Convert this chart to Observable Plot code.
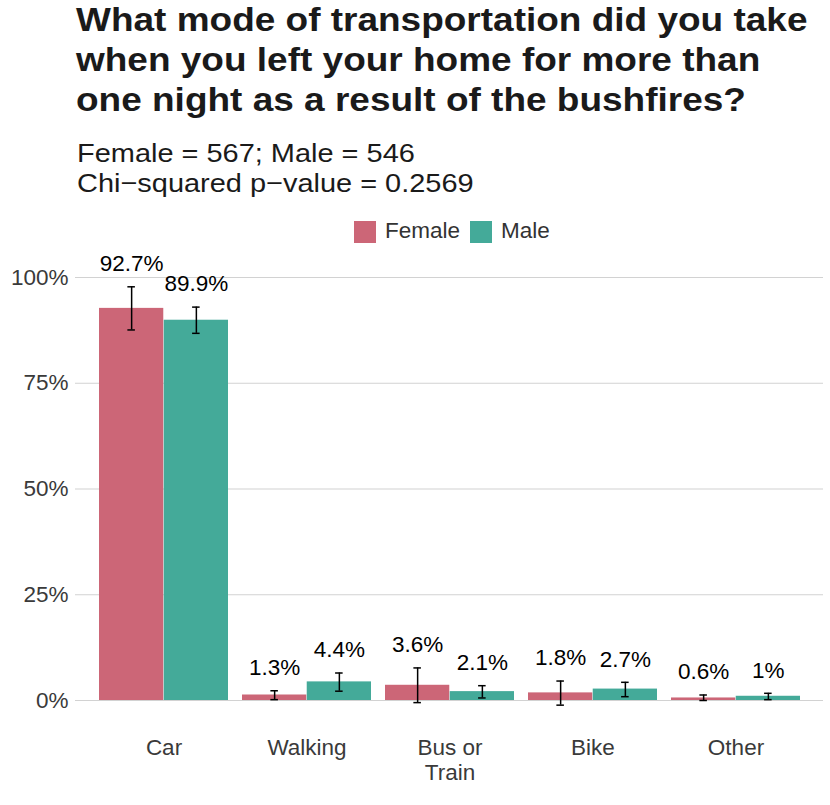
<!DOCTYPE html>
<html>
<head>
<meta charset="utf-8">
<script src="https://cdn.jsdelivr.net/npm/d3@7"></script>
<script src="https://cdn.jsdelivr.net/npm/@observablehq/plot@0.6"></script>
<style>
  body { margin: 0; background: white; font-family: "Liberation Sans", Arial, Helvetica, sans-serif; }
  #header { position: relative; width: 830px; height: 248px; }
  .abs { position: absolute; white-space: nowrap; }
  .title { left: 76px; top: 0px; font-weight: bold; font-size: 33.5px; line-height: 40px; color: #1a1a1a; transform: scaleX(1.104); transform-origin: 0 0; }
  .subtitle { left: 77px; top: 137.7px; font-size: 26px; line-height: 30px; color: #1a1a1a; transform: scaleX(1.113); transform-origin: 0 0; }
  .sw { width: 22px; height: 22px; }
  .lt { font-size: 22.5px; line-height: 22px; color: #333; }
</style>
</head>
<body>
<div id="header">
  <div class="abs title">What mode of transportation did you take<br>when you left your home for more than<br>one night as a result of the bushfires?</div>
  <div class="abs subtitle">Female = 567; Male = 546<br>Chi−squared p−value = 0.2569</div>
  <div class="abs sw" id="sw0" style="left:354px;top:221px"></div>
  <div class="abs lt" id="lt0" style="left:385px;top:220px"></div>
  <div class="abs sw" id="sw1" style="left:470px;top:221px"></div>
  <div class="abs lt" id="lt1" style="left:501px;top:220px"></div>
</div>
<div id="chart"></div>
<script>
const categories = ["Car", "Walking", "Bus or\nTrain", "Bike", "Other"];
const sexes = ["Female", "Male"];
const colors = ["#CC6677", "#44AA99"];
const femaleValues = [92.7, 1.3, 3.6, 1.8, 0.6];
const maleValues = [89.9, 4.4, 2.1, 2.7, 1.0];
const femaleLow = [87.6, 0.2, -0.5, -1.1, 0.0];
const femaleHigh = [97.8, 2.3, 7.7, 4.6, 1.3];
const maleLow = [86.8, 2.2, 0.6, 0.9, 0.2];
const maleHigh = [93.0, 6.5, 3.5, 4.3, 1.7];
const femaleLabels = ["92.7%", "1.3%", "3.6%", "1.8%", "0.6%"];
const maleLabels = ["89.9%", "4.4%", "2.1%", "2.7%", "1%"];
const yTicks = [0, 25, 50, 75, 100];

// legend
sexes.forEach((s, i) => {
  document.getElementById("sw" + i).style.background = colors[i];
  document.getElementById("lt" + i).textContent = s;
});

const rows = (vals, lo, hi, labs, sex) => categories.map((c, i) => ({
  category: c, sex, value: vals[i], low: lo[i], high: hi[i], label: labs[i]
}));
const female = rows(femaleValues, femaleLow, femaleHigh, femaleLabels, "Female");
const male = rows(maleValues, maleLow, maleHigh, maleLabels, "Male");

const W = 830, H = 557, ML = 75, MR = 7, MT = 29, MB = 105;
const padIn = 0.1, padOut = 0.15;
const step = (W - ML - MR) / (categories.length - padIn + 2 * padOut);
const bw = (1 - padIn) * step;
const cap = 8;
const FS = 22.5;

const errMarks = (data, side) => {
  const dx = side * bw / 4;
  const inL = side < 0 ? bw / 4 - cap / 2 : 3 * bw / 4 - cap / 2;
  const inR = side < 0 ? 3 * bw / 4 - cap / 2 : bw / 4 - cap / 2;
  return [
    Plot.ruleX(data, {x: "category", y1: "low", y2: "high", dx, stroke: "black", strokeWidth: 1.5}),
    Plot.tickY(data, {x: "category", y: "low", insetLeft: inL, insetRight: inR, stroke: "black", strokeWidth: 1.5}),
    Plot.tickY(data, {x: "category", y: "high", insetLeft: inL, insetRight: inR, stroke: "black", strokeWidth: 1.5}),
    Plot.text(data, {x: "category", y: "high", text: "label", dx, dy: -23, fontSize: FS, fill: "black"})
  ];
};

const chart = Plot.plot({
  width: W, height: H,
  marginLeft: ML, marginRight: MR, marginTop: MT, marginBottom: MB,
  style: {fontFamily: "Liberation Sans, Arial, Helvetica, sans-serif", fontSize: FS + "px", color: "#3a3a3a", background: "white", overflow: "visible"},
  x: {domain: categories, paddingInner: padIn, paddingOuter: padOut, label: null},
  y: {domain: [0, 100], label: null},
  color: {domain: sexes, range: colors},
  marks: [
    Plot.ruleY(yTicks, {stroke: "#d2d2d2", strokeWidth: 1.1}),
    Plot.axisY({ticks: yTicks, tickFormat: d => d + "%", tickSize: 0, tickPadding: 7, fontSize: FS, label: null}),
    Plot.axisX({tickSize: 0, tickPadding: 37, fontSize: FS, lineHeight: 25 / FS, label: null}),
    Plot.barY(female, {x: "category", y: "value", fill: "sex", insetRight: bw / 2}),
    Plot.barY(male, {x: "category", y: "value", fill: "sex", insetLeft: bw / 2}),
    ...errMarks(female, -1),
    ...errMarks(male, 1)
  ]
});
document.getElementById("chart").appendChild(chart);
</script>
</body>
</html>
